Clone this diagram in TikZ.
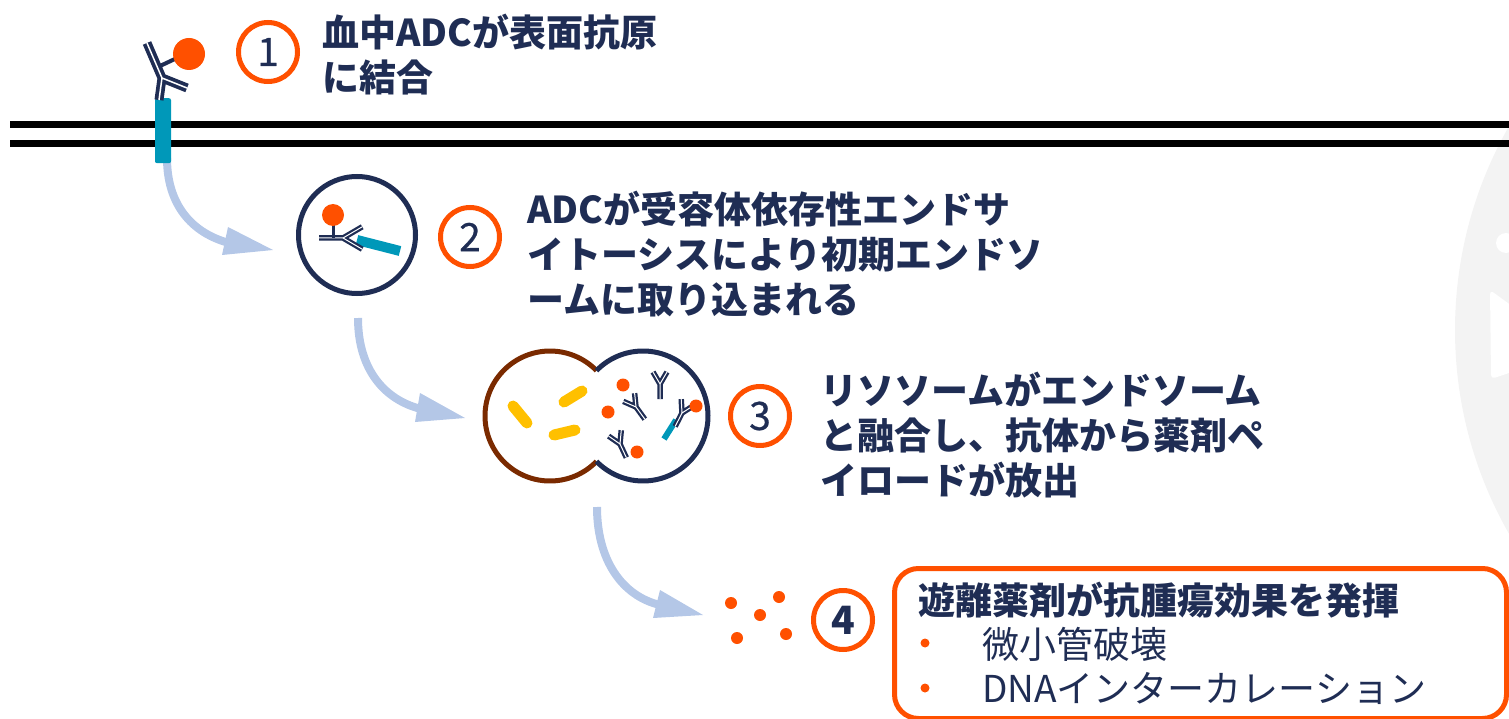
\documentclass[tikz,border=0pt]{standalone}
\usepackage{fontspec}
\setmainfont{Noto Sans CJK JP}
\newfontfamily\digitfont{Noto Sans CJK JP}[FakeBold=0.6]
\definecolor{navy}{RGB}{31,45,84}
\definecolor{accent}{RGB}{255,80,0}
\definecolor{receptor}{RGB}{0,152,185}
\definecolor{lyso}{RGB}{122,42,0}
\definecolor{rodcol}{RGB}{255,192,0}
\definecolor{flow}{RGB}{180,199,231}
\definecolor{emblem}{RGB}{243,243,243}
\begin{document}
\begin{tikzpicture}[x=1pt,y=-1pt,
  numring/.style={circle,draw=accent,line width=5pt,minimum size=59pt,inner sep=0pt,
    text=navy,font=\digitfont\fontsize{39}{39}\selectfont},
  caption/.style={anchor=north west,inner sep=0pt,align=left,text=navy,
    font=\fontsize{37}{45}\selectfont\bfseries},
  bulletitem/.style={anchor=north west,inner sep=0pt,text=navy,
    font=\fontsize{37}{45}\selectfont},
  flowshaft/.style={draw=flow,line width=8pt},
  flowhead/.style={fill=flow},
  abchain/.style={draw=navy,line width=#1,line join=round},
  abchain/.default=5.5pt,
  abgap/.style={draw=white,line width=#1},
  abgap/.default=1pt,
  vesicle/.style={line width=5pt},
  payload/.style={fill=accent},
  rod/.style={draw=rodcol,line width=11pt,line cap=round},
  pics/ab/.style={code={
    \draw[abchain] (0,15) -- (0,0) -- (-7,-12) (0,0) -- (7,-12);
    \draw[abgap] (0,15) -- (0,0) -- (-7,-12) (0,0) -- (7,-12);
  }},
]
\useasboundingbox (0,0) rectangle (1509,719);

% faint emblem at the right edge
\begin{scope}
  \clip (0,0) rectangle (1509,719);
  \fill[emblem] (1866,330) circle (411);
  \fill[white,rounded corners=4pt] (1490,290) -- (1512,306) -- (1512,372) -- (1491,379) -- cycle;
  \fill[white] (1506,243) circle (10);
\end{scope}

% cell membrane
\coordinate (m1a) at (10,125);  \coordinate (m1b) at (1509,125);
\coordinate (m2a) at (10,144);  \coordinate (m2b) at (1509,144);
\draw[line width=7pt] (m1a) -- (m1b);
\draw[line width=7pt] (m2a) -- (m2b);

% step 1 -> step 2 flow
\coordinate (s1) at (167,158);
\draw[flowshaft] (s1) .. controls (167,205) and (192,233) .. (229,243);
\fill[flowhead] (228,227) -- (273,250) -- (222,255) -- cycle;

% step 1: surface antigen with bound ADC
\node[fill=receptor,rounded corners=2pt,minimum width=16pt,minimum height=65pt,
  inner sep=0pt,anchor=north] (rec1) at (163,98) {};
\draw[abchain=9pt] (159,100) -- (162,78) -- (147,43) (162,78) -- (187,88);
\draw[abgap=1.5pt] (159,100) -- (162,78) -- (147,43) (162,78) -- (187,88);
\draw[navy,line width=4pt] (160,66) -- (177,58);
\fill[payload] (189,54) circle (16);

% step 2: early endosome
\node[circle,draw=navy,line width=5pt,minimum size=117pt,inner sep=0pt] (endo) at (357,235) {};
\draw[receptor,line width=10pt] (357,240) -- (400,251);
\pic[rotate=-90,scale=1.6] at (343,238) {ab};
\draw[navy,line width=3pt] (333,224) -- (333,238);
\fill[payload] (333,215) circle (11);

% step 2 -> step 3 flow
\coordinate (s2) at (358,318);
\draw[flowshaft] (s2) .. controls (358,370) and (385,400) .. (421,409);
\fill[flowhead] (420,393) -- (465,418) -- (415,422) -- cycle;

% step 3: lysosome fused with endosome
\coordinate (lys) at (550,416);
\coordinate (late) at (643,416);
\draw[vesicle,draw=lyso] (lys) ++(44.3:65) arc[start angle=44.3,end angle=315.7,radius=65];
\draw[vesicle,draw=navy] (late) ++(-135.7:65) arc[start angle=-135.7,end angle=135.7,radius=65];
\draw[rod] (513,406) -- (527,423);
\draw[rod] (564,402) -- (582,391);
\draw[rod] (554,435) -- (575,430);
\pic at (660,384) {ab};
\pic[rotate=36] at (636,407) {ab};
\pic[rotate=25] at (620,444) {ab};
\draw[receptor,line width=6pt] (676,420) -- (664,439);
\pic[rotate=-27] at (682,413) {ab};
\fill[payload] (623,385) circle (6.5);
\fill[payload] (608,412) circle (6.5);
\fill[payload] (637,452) circle (6.5);
\fill[payload] (696,406) circle (6.5);

% step 3 -> step 4 flow
\coordinate (s3) at (597,507);
\draw[flowshaft] (s3) .. controls (597,560) and (622,596) .. (660,605);
\fill[flowhead] (660,590) -- (703,615) -- (653,618) -- cycle;

% step 4: free payload
\fill[payload] (731,603) circle (6);
\fill[payload] (760,615) circle (6);
\fill[payload] (779,597) circle (6);
\fill[payload] (737,638) circle (6);
\fill[payload] (786,634) circle (6);

% step numbers
\node[numring] (n1) at (268,52) {1};
\node[numring] (n2) at (470,237) {2};
\node[numring] (n3) at (760,416) {3};
\node[numring,font=\fontsize{39}{39}\selectfont\bfseries] (n4) at (843,620) {4};

% step descriptions
\node[caption] (t1) at (322,14) {血中ADCが表面抗原\\に結合};
\node[caption] (t2) at (527,191) {ADCが受容体依存性エンドサ\\イトーシスにより初期エンドソ\\ームに取り込まれる};
\node[caption] (t3) at (820,372) {リソソームがエンドソーム\\と融合し、抗体から薬剤ペ\\イロードが放出};

% effect box
\node[draw=accent,line width=5pt,rounded corners=24pt,minimum width=612pt,minimum height=150pt,
  anchor=north west,inner sep=0pt] (box) at (892,566) {};
\node[caption] (t4) at (918,582) {遊離薬剤が抗腫瘍効果を発揮};
\fill[accent] (925,643) circle (4.5);
\fill[accent] (925,688) circle (4.5);
\node[bulletitem] (i1) at (982,627) {微小管破壊};
\node[bulletitem] (i2) at (982,672) {DNAインターカレーション};
\end{tikzpicture}
\end{document}
